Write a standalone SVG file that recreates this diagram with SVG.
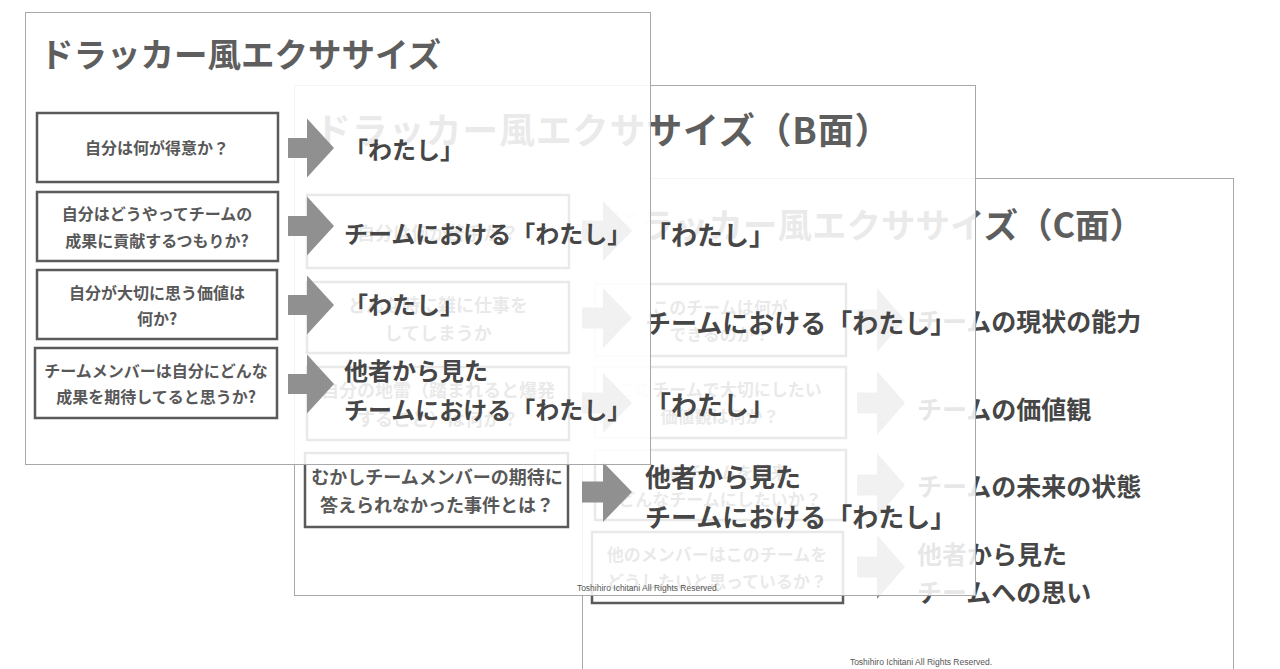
<svg xmlns="http://www.w3.org/2000/svg" width="1280" height="669" viewBox="0 0 1280 669">
<style>
.jp{font-family:"Noto Sans CJK JP","Noto Sans CJK SC",sans-serif;font-weight:700}
.title{fill:#5e5e5e;dominant-baseline:central}
.q{fill:#585858;text-anchor:middle;dominant-baseline:central}
.ans{fill:#464646;dominant-baseline:central}
.box{fill:none;stroke:#5a5a5a;stroke-width:2.5}
.slide{stroke:#a8a8a8;stroke-width:1}
.veil{fill:#ffffff;fill-opacity:0.87}
.arrow{fill:#909090}
.foot{font-family:"Liberation Sans",Arial,sans-serif;font-size:8.5px;fill:#555555;text-anchor:middle}
</style>
<defs>
<path id="arrA" d="M0,-10 H19 V-29.5 L46,0 L19,29.5 V10 H0 Z"/>
<path id="arrB" d="M0,-10.5 H21 V-30 L50,0 L21,30 V10.5 H0 Z"/>
<path id="arrC" d="M0,-10.5 H20 V-32 L48,0 L20,32 V10.5 H0 Z"/>
</defs>
<rect x="0" y="0" width="1280" height="669" fill="#ffffff"/>

<!-- Slide C (bottom) -->
<g id="slideC">
<rect class="slide" x="582.5" y="178.5" width="651" height="500" fill="#ffffff"/>
<text class="jp title" x="605" y="223" font-size="34.5">ドラッカー風エクササイズ（C面）</text>
<g id="C-q1"><rect class="box" x="595" y="284" width="251" height="72"/>
<text class="jp q" font-size="17"><tspan x="720" y="306">このチームは何が</tspan><tspan x="720" y="333">できるのか？</tspan></text></g>
<g id="C-q2"><rect class="box" x="595" y="367" width="251" height="71"/>
<text class="jp q" font-size="17"><tspan x="720" y="388">このチームで大切にしたい</tspan><tspan x="720" y="415">価値観は何か？</tspan></text></g>
<g id="C-q3"><rect class="box" x="595" y="450" width="251" height="70"/>
<text class="jp q" font-size="17"><tspan x="720" y="471">このチームを将来</tspan><tspan x="720" y="498">どんなチームにしたいか？</tspan></text></g>
<g id="C-q4"><rect class="box" x="592" y="532" width="251" height="71"/>
<text class="jp q" font-size="17"><tspan x="717" y="553">他のメンバーはこのチームを</tspan><tspan x="717" y="580">どうしたいと思っているか？</tspan></text></g>
<g id="C-connectors">
<use href="#arrC" class="arrow" x="857" y="320"/>
<use href="#arrC" class="arrow" x="857" y="403"/>
<use href="#arrC" class="arrow" x="857" y="485"/>
<use href="#arrC" class="arrow" x="857" y="567"/>
</g>
<g id="C-a1"><text class="jp ans" x="917" y="320" font-size="25">チームの現状の能力</text></g>
<g id="C-a2"><text class="jp ans" x="917" y="408" font-size="25">チームの価値観</text></g>
<g id="C-a3"><text class="jp ans" x="917" y="485" font-size="25">チームの未来の状態</text></g>
<g id="C-a4"><text class="jp ans" font-size="25"><tspan x="917" y="553">他者から見た</tspan><tspan x="917" y="591">チームへの思い</tspan></text></g>
<text class="foot" x="921" y="665">Toshihiro Ichitani All Rights Reserved.</text>
</g>

<!-- Slide B (middle) -->
<g id="slideB">
<rect class="veil slide" x="294.5" y="85.5" width="681" height="510"/>
<text class="jp title" x="315" y="128" font-size="36" letter-spacing="0.8">ドラッカー風エクササイズ（B面）</text>
<g id="B-q1"><rect class="box" x="307" y="195" width="262" height="73"/>
<text class="jp q" x="438" y="232" font-size="18">自分は何が苦手か？</text></g>
<g id="B-q2"><rect class="box" x="307" y="282" width="262" height="71"/>
<text class="jp q" font-size="18"><tspan x="438" y="304">どんな時に雑に仕事を</tspan><tspan x="438" y="332">してしまうか</tspan></text></g>
<g id="B-q3"><rect class="box" x="307" y="367" width="262" height="73"/>
<text class="jp q" font-size="18"><tspan x="438" y="389">自分の地雷（踏まれると爆発</tspan><tspan x="438" y="418">すること）は何か？</tspan></text></g>
<g id="B-q4"><rect class="box" x="305" y="453" width="263" height="74"/>
<text class="jp q" font-size="18"><tspan x="437" y="476">むかしチームメンバーの期待に</tspan><tspan x="437" y="504">答えられなかった事件とは？</tspan></text></g>
<g id="B-connectors">
<use href="#arrB" class="arrow" x="582" y="231"/>
<use href="#arrB" class="arrow" x="582" y="318"/>
<use href="#arrB" class="arrow" x="582" y="403"/>
<use href="#arrB" class="arrow" x="582" y="492"/>
</g>
<g id="B-a1"><text class="jp ans" x="645" y="233" font-size="26">「わたし」</text></g>
<g id="B-a2"><text class="jp ans" x="645" y="321" font-size="26">チームにおける「わたし」</text></g>
<g id="B-a3"><text class="jp ans" x="645" y="403" font-size="26">「わたし」</text></g>
<g id="B-a4"><text class="jp ans" font-size="26"><tspan x="645" y="475">他者から見た</tspan><tspan x="645" y="515">チームにおける「わたし」</tspan></text></g>
<text class="foot" x="648" y="591">Toshihiro Ichitani All Rights Reserved.</text>
</g>

<!-- Slide A (top) -->
<g id="slideA">
<rect class="veil slide" x="25.5" y="12.5" width="625" height="452"/>
<text class="jp title" x="40" y="52" font-size="33.5">ドラッカー風エクササイズ</text>
<g id="A-q1"><rect class="box" x="37" y="113" width="241" height="69"/>
<text class="jp q" x="157" y="147" font-size="16">自分は何が得意か？</text></g>
<g id="A-q2"><rect class="box" x="37" y="192" width="241" height="69"/>
<text class="jp q" font-size="16"><tspan x="157" y="213">自分はどうやってチームの</tspan><tspan x="157" y="240">成果に貢献するつもりか?</tspan></text></g>
<g id="A-q3"><rect class="box" x="37" y="270" width="240" height="69"/>
<text class="jp q" font-size="16"><tspan x="157" y="292">自分が大切に思う価値は</tspan><tspan x="157" y="318">何か?</tspan></text></g>
<g id="A-q4"><rect class="box" x="35" y="348" width="242" height="70"/>
<text class="jp q" font-size="16"><tspan x="156" y="370">チームメンバーは自分にどんな</tspan><tspan x="156" y="396">成果を期待してると思うか?</tspan></text></g>
<g id="A-connectors">
<use href="#arrA" class="arrow" x="288" y="148"/>
<use href="#arrA" class="arrow" x="288" y="226"/>
<use href="#arrA" class="arrow" x="288" y="305"/>
<use href="#arrA" class="arrow" x="288" y="384"/>
</g>
<g id="A-a1"><text class="jp ans" x="344" y="148" font-size="24">「わたし」</text></g>
<g id="A-a2"><text class="jp ans" x="344" y="232" font-size="24">チームにおける「わたし」</text></g>
<g id="A-a3"><text class="jp ans" x="344" y="303" font-size="24">「わたし」</text></g>
<g id="A-a4"><text class="jp ans" font-size="24"><tspan x="344" y="369">他者から見た</tspan><tspan x="344" y="408">チームにおける「わたし」</tspan></text></g>
</g>
</svg>
